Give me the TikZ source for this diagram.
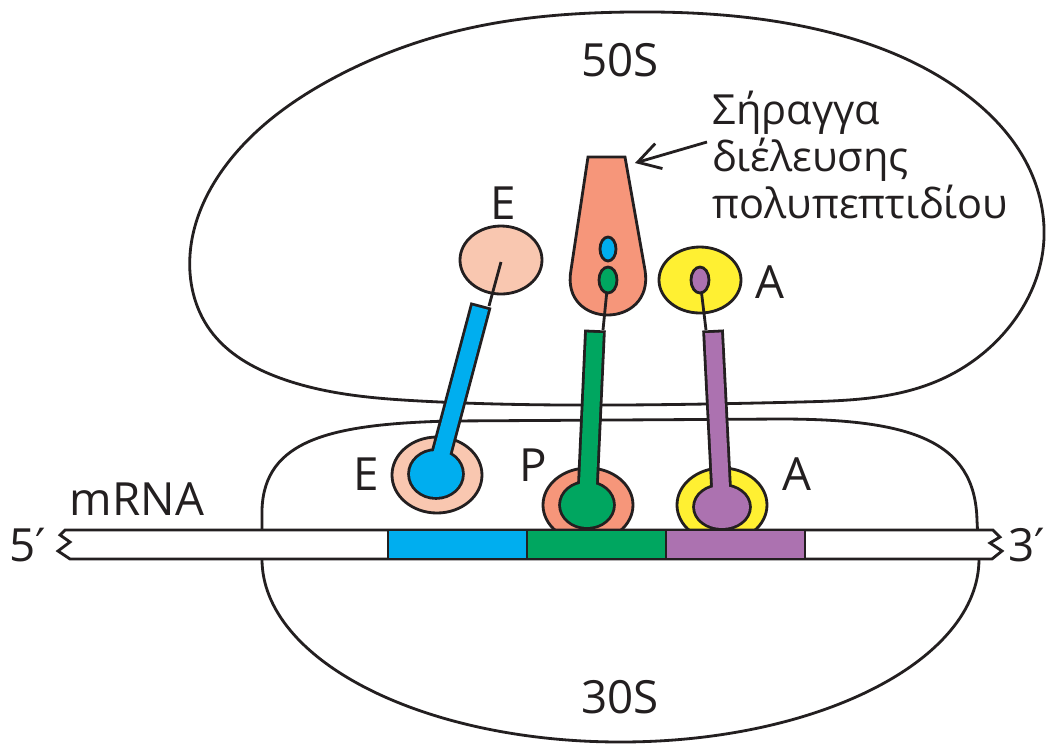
\documentclass[tikz,border=0pt]{standalone}
\usepackage{fontspec}
\setmainfont{Open Sans}
\newfontfamily\primefont{DejaVu Sans}
\usetikzlibrary{arrows.meta,hobby}
\definecolor{ink}{RGB}{35,31,32}
\definecolor{trnablue}{RGB}{0,174,239}
\definecolor{trnagreen}{RGB}{0,166,96}
\definecolor{trnapurple}{RGB}{172,114,176}
\definecolor{salmon}{RGB}{246,150,122}
\definecolor{peach}{RGB}{249,199,176}
\definecolor{siteyellow}{RGB}{255,240,50}
\tikzset{outline/.style={draw=ink, line width=0.8pt},
  site/.style={text=ink, inner sep=0pt, font=\fontsize{13}{15}\selectfont},
  stemedge/.style={draw=ink, line width=6.15pt},
  stembody/.style={line width=4.55pt, shorten >=0.8pt},
  headedge/.style={draw=ink, line width=1.6pt}}

\begin{document}
\begin{tikzpicture}[x=0.01cm,y=-0.01cm]
   \useasboundingbox[fill=white] (0,0) rectangle (1047,744);
   % large subunit
   \draw[outline, use Hobby shortcut, closed=true]
     (630,12) .. (470,28) .. (330,80) .. (230,160) .. (190,255) .. (210,330) ..
     (280,378) .. (420,401) .. (620,405) .. (800,402) .. (935,382) .. (1013,322) ..
     (1043,250) .. (1030,170) .. (960,90) .. (820,30);
   % small subunit
   \draw[outline] (262,559) -- (262,510) .. controls (264,440) and (330,424) .. (450,421)
     -- (780,419) .. controls (910,419) and (975,440) .. (977,520) -- (979,559)
     arc[start angle=0, end angle=180, x radius=358.5, y radius=183];
   \node[site] (lbl50) at (620,60) {50S};
   \node[site] (lbl30) at (620,697) {30S};

   % exit tunnel with the growing chain
   \filldraw[outline, fill=salmon] (588,157) -- (625,157) -- (645,270)
     .. controls (655,330) and (560,330) .. (571,270) -- cycle;
   \coordinate (tunneltip) at (635,163);
   \draw[outline] (608,280) -- (603,330);
   \filldraw[outline, fill=trnablue] (608,249) ellipse [x radius=8, y radius=12];
   \filldraw[outline, fill=trnagreen] (608,280) ellipse [x radius=9, y radius=13];
   \node[site, anchor=north west, align=left, font=\fontsize{11.8}{12.3}\selectfont]
     (tunnellbl) at (712,90) {Σήραγγα\\διέλευσης\\πολυπεπτιδίου};
   \draw[outline, -{Straight Barb[length=2.2mm,width=2.6mm]}]
     ([shift={(-5,52)}]tunnellbl.north west) -- (tunneltip);

   % E site, top
   \filldraw[outline, fill=peach] (501,260) ellipse [x radius=41, y radius=34];
   \node[site] (etop) at (503,203) {E};
   % A site, top
   \filldraw[outline, fill=siteyellow] (700,280) ellipse [x radius=41, y radius=33];
   \draw[outline] (700,280) -- (706,330);
   \filldraw[outline, fill=trnapurple] (700,280) ellipse [x radius=9, y radius=13];
   \node[site] (atop) at (770,282) {A};

   % E tRNA
   \filldraw[outline, fill=peach] (437,475) ellipse [x radius=45, y radius=38];
   \draw[stemedge] (436,474) -- (481,305);
   \draw[headedge] (436,474) ellipse [x radius=26, y radius=23];
   \draw[stembody, trnablue] (436,474) -- (481,305);
   \fill[trnablue] (436,474) ellipse [x radius=26, y radius=23];
   \draw[outline] (501,262) -- (489,306);
   \node[site] (ebot) at (366,474) {E};

   % P tRNA
   \filldraw[outline, fill=salmon] (588,505) ellipse [x radius=45, y radius=37];
   \draw[stemedge] (587,505) -- (595,330);
   \draw[headedge] (587,505) ellipse [x radius=26, y radius=22];
   \draw[stembody, trnagreen] (587,505) -- (595,330);
   \fill[trnagreen] (587,505) ellipse [x radius=26, y radius=22];
   \node[site] (pbot) at (533,465) {P};

   % A tRNA
   \filldraw[outline, fill=siteyellow] (722,505) ellipse [x radius=45, y radius=37];
   \draw[stemedge] (722,507) -- (713,330);
   \draw[headedge] (722,507) ellipse [x radius=27, y radius=21];
   \draw[stembody, trnapurple] (722,507) -- (713,330);
   \fill[trnapurple] (722,507) ellipse [x radius=27, y radius=21];
   \node[site] (abot) at (797,474) {A};

   % mRNA with the three codons
   \filldraw[outline, fill=white] (65,530) -- (993,530) -- (1000,537) -- (990,543)
     -- (1002,551) -- (992,559) -- (70,559) -- (58,551) -- (70,542) -- (60,535) -- cycle;
   \filldraw[outline, fill=trnablue] (388,530) rectangle (527,559);
   \filldraw[outline, fill=trnagreen] (527,530) rectangle (666,559);
   \filldraw[outline, fill=trnapurple] (666,530) rectangle (805,559);
   \node[site] (mrna) at (137,499) {mRNA};
   \node[site] (five) at (28,545) {5{\primefont ′}};
   \node[site, anchor=east] (three) at (1046,545) {3{\primefont ′}};
\end{tikzpicture}
\end{document}
